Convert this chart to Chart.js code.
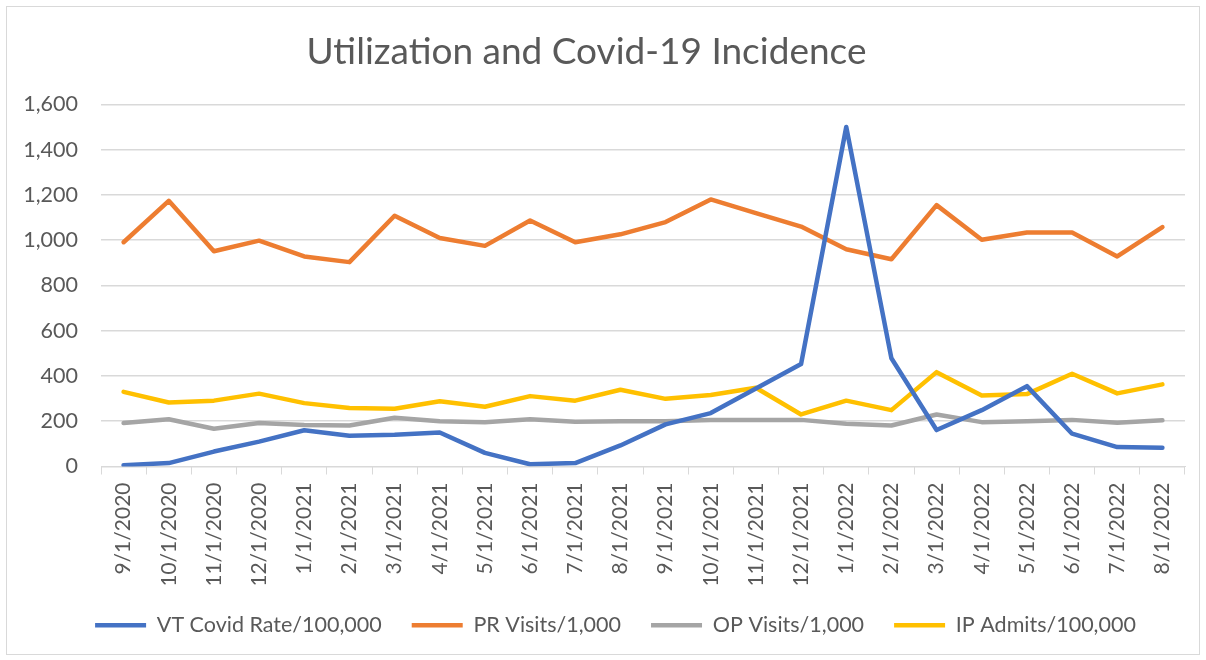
<!DOCTYPE html>
<html>
<head>
<meta charset="utf-8">
<script src="https://cdn.jsdelivr.net/npm/chart.js@4.4.0/dist/chart.umd.min.js"></script>
<style>
  html, body { margin: 0; padding: 0; background: #fff; }
  #wrap { position: relative; width: 1206px; height: 660px; }
</style>
</head>
<body>
<div id="wrap"><canvas id="grafico"></canvas></div>
<script>
// Dados
const meses = ['9/1/2020', '10/1/2020', '11/1/2020', '12/1/2020', '1/1/2021', '2/1/2021',
    '3/1/2021', '4/1/2021', '5/1/2021', '6/1/2021', '7/1/2021', '8/1/2021',
    '9/1/2021', '10/1/2021', '11/1/2021', '12/1/2021', '1/1/2022', '2/1/2022',
    '3/1/2022', '4/1/2022', '5/1/2022', '6/1/2022', '7/1/2022', '8/1/2022'];

const covidRate = [6, 15, 66, 110, 160, 136, 140, 150, 60, 10, 15, 93,
    186, 236, 345, 453, 1500, 478, 161, 249, 355, 145, 86, 83];
const prVisits = [991, 1174, 951, 998, 928, 903, 1108, 1010, 975, 1087, 991, 1026,
    1080, 1180, 1120, 1060, 960, 916, 1155, 1002, 1034, 1034, 928, 1058];
const opVisits = [192, 209, 167, 192, 183, 181, 215, 200, 195, 209, 198, 200,
    200, 206, 205, 206, 189, 181, 230, 196, 200, 206, 193, 204];
const ipAdmits = [330, 283, 291, 322, 280, 258, 255, 288, 264, 311, 291, 339,
    299, 316, 348, 230, 291, 249, 417, 314, 320, 410, 323, 363];

const yTicks = [0, 200, 400, 600, 800, 1000, 1200, 1400, 1600];

const corTexto = '#595959';
const corGrade = '#d9d9d9';

// Moldura cinza do gráfico (estilo Excel)
const moldura = {
    id: 'moldura',
    beforeDraw(chart) {
        const ctx = chart.ctx;
        ctx.save();
        ctx.fillStyle = '#fff';
        ctx.fillRect(0, 0, chart.width, chart.height);
        ctx.strokeStyle = corGrade;
        ctx.lineWidth = 1;
        ctx.strokeRect(6.5, 6.5, 1193, 648);
        ctx.restore();
    }
};

// Pequeno ajuste horizontal do título e da legenda
const ajuste = {
    id: 'ajuste',
    afterLayout(chart) {
        if (chart.titleBlock) {
            chart.titleBlock.left -= 6;
            chart.titleBlock.right -= 6;
        }
        if (chart.legend) {
            chart.legend.left += 23;
            chart.legend.right += 23;
        }
    }
};

function serie(label, data, cor) {
    return {
        label: label,
        data: data,
        borderColor: cor,
        backgroundColor: cor,
        borderWidth: 4.5,
        borderCapStyle: 'round',
        borderJoinStyle: 'round',
        pointRadius: 0,
        pointHoverRadius: 0,
        tension: 0,
        fill: false
    };
}

window.addEventListener('DOMContentLoaded', function() {
    const ctx = document.getElementById('grafico').getContext('2d');
    new Chart(ctx, {
        type: 'line',
        data: {
            labels: meses,
            datasets: [
                serie('VT Covid Rate/100,000', covidRate, '#4472C4'),
                serie('PR Visits/1,000', prVisits, '#ED7D31'),
                serie('OP Visits/1,000', opVisits, '#A5A5A5'),
                serie('IP Admits/100,000', ipAdmits, '#FFC000')
            ]
        },
        options: {
            responsive: true,
            maintainAspectRatio: false,
            animation: false,
            layout: { padding: { left: 0, right: 21, top: 0, bottom: 14 } },
            plugins: {
                title: {
                    display: true,
                    text: 'Utilization and Covid-19 Incidence',
                    color: corTexto,
                    font: { family: 'Lato', size: 37, weight: 'normal' },
                    padding: { top: 30, bottom: 30 }
                },
                legend: {
                    position: 'bottom',
                    labels: {
                        color: corTexto,
                        font: { family: 'Lato', size: 21.5 },
                        usePointStyle: true,
                        pointStyle: 'line',
                        pointStyleWidth: 51,
                        padding: 30
                    }
                },
                tooltip: { enabled: false }
            },
            scales: {
                x: {
                    offset: true,
                    afterFit: function(scale) {
                        scale.height = 118;
                    },
                    grid: {
                        offset: true,
                        drawOnChartArea: false,
                        drawTicks: true,
                        tickLength: 8,
                        color: corGrade
                    },
                    border: { color: corGrade },
                    ticks: {
                        autoSkip: false,
                        minRotation: 90,
                        maxRotation: 90,
                        color: corTexto,
                        font: { family: 'Lato', size: 21 },
                        padding: 8
                    }
                },
                y: {
                    min: 0,
                    max: 1600,
                    afterBuildTicks: function(scale) {
                        scale.ticks = yTicks.map(v => ({ value: v }));
                    },
                    afterFit: function(scale) {
                        scale.width = 101;
                    },
                    grid: { color: corGrade, lineWidth: 1.5, drawTicks: false },
                    border: { display: false },
                    ticks: {
                        color: corTexto,
                        font: { family: 'Lato', size: 21.5 },
                        padding: 23,
                        callback: v => v.toLocaleString('en-US')
                    }
                }
            }
        },
        plugins: [moldura, ajuste]
    });
});
</script>
</body>
</html>
